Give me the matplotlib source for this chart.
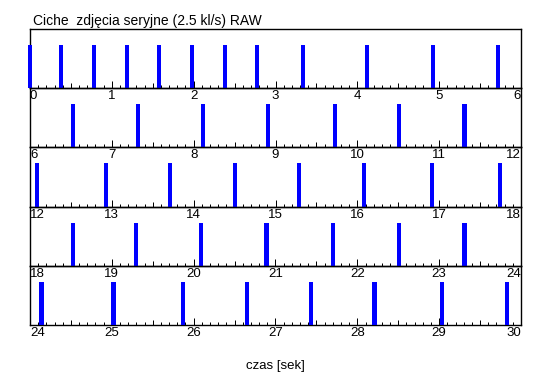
import numpy as np
import matplotlib.pyplot as plt

plt.rcParams['font.family'] = ['Liberation Sans', 'DejaVu Sans']

# moments of each shot [s]
times = [0.0, 0.38, 0.78, 1.18, 1.58, 1.98, 2.38, 2.77, 3.34, 4.12, 4.93, 5.72,
         6.53, 7.32, 8.11, 8.91, 9.73, 10.51, 11.31,
         12.08, 12.93, 13.71, 14.50, 15.29, 16.08, 16.91, 17.74,
         18.52, 19.29, 20.09, 20.89, 21.70, 22.51, 23.31,
         24.14, 25.02, 25.87, 26.65, 27.43, 28.21, 29.04, 29.83]
row_starts = [0, 6, 12, 18, 24]
row_len = 6
title = "Ciche  zdjęcia seryjne (2.5 kl/s) RAW"
xlabel = "czas [sek]"

W, H = 550, 389
fig = plt.figure(figsize=(W / 100, H / 100), dpi=100)
left, right, top, bottom = 30 / W, 521 / W, 1 - 29 / H, 1 - 325 / H
n = len(row_starts)
rh = (top - bottom) / n
t = np.array(times)

for i, start in enumerate(row_starts):
    ax = fig.add_axes([left, top - (i + 1) * rh, right - left, rh])
    ax.patch.set_visible(False)
    sel = t[(t >= start) & (t < start + row_len)]
    ax.bar(sel, 0.73, width=0.05, color='#0000ff', align='center', clip_on=False,
           zorder=3, antialiased=False)
    ax.set_xlim(start, start + row_len)
    ax.set_ylim(0, 1)
    ax.set_yticks([])
    ax.set_xticks(np.arange(start, start + row_len + 1))
    ax.set_xticks(np.arange(start, start + row_len + 0.01, 0.1), minor=True)
    ax.tick_params(axis='x', which='major', direction='in', length=5, width=0.72,
                   pad=1.5, labelsize=9.5, colors='black')
    ax.tick_params(axis='x', which='minor', direction='in', length=2.2, width=0.72)
    for loc, tk in zip(ax.xaxis.get_minorticklocs(), ax.xaxis.get_minor_ticks()):
        if abs((loc - start) % 1 - 0.5) < 1e-6:
            tk.tick1line.set_markersize(3.6)
    mt = ax.xaxis.get_major_ticks()
    mt[0].label1.set_horizontalalignment('left')
    mt[-1].label1.set_horizontalalignment('right')
    for s in ax.spines.values():
        s.set_linewidth(1.0)

fig.text(33 / W, 1 - 21 / H, title, fontsize=10, ha='left', va='center')
fig.text(275 / W, 1 - 366 / H, xlabel, fontsize=9.5, ha='center', va='center')

fig.savefig("out.png", dpi=100, facecolor='white')
